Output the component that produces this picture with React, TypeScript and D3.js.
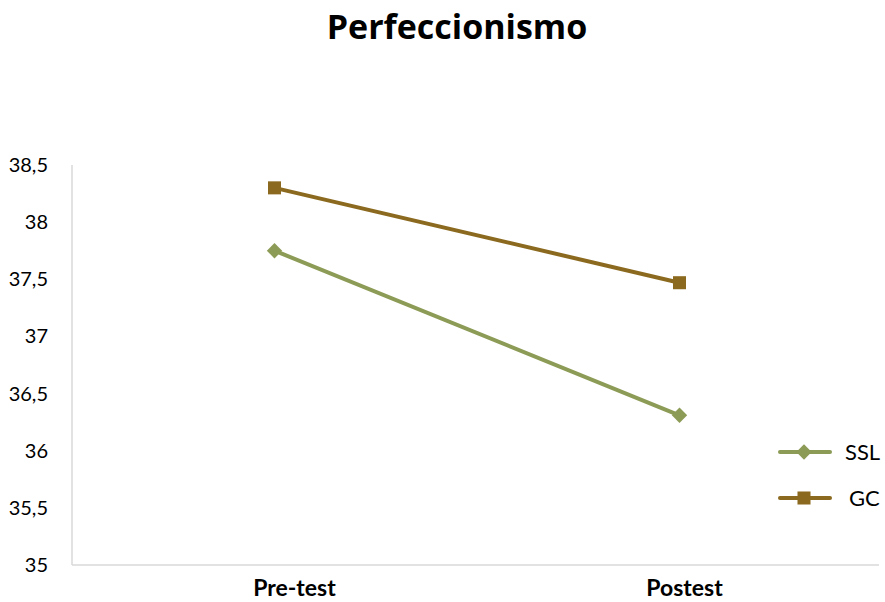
import * as d3 from "d3";
import { useEffect, useRef } from "react";

const categories = ["Pre-test", "Postest"];
const seriesNames = ["SSL", "GC"];
const sslValues = [37.75, 36.31];
const gcValues = [38.3, 37.47];
const yTicks = [35, 35.5, 36, 36.5, 37, 37.5, 38, 38.5];
const colors = ["#8c9b55", "#8b6a1f"];

export default function App() {
  const svgRef = useRef<SVGSVGElement>(null);

  useEffect(() => {
    render();
  }, []);

  const render = () => {
    const width = 885;
    const height = 602;
    const margin = { top: 165, left: 72, right: 3, bottom: 37 };
    const svg = d3.select(svgRef.current).attr("width", width).attr("height", height);
    svg.selectAll("*").remove();

    const font = "Lato, 'Open Sans', sans-serif";

    // 제목
    svg
      .append("text")
      .attr("x", 457)
      .attr("y", 39)
      .attr("text-anchor", "middle")
      .attr("font-family", "'Open Sans', sans-serif")
      .attr("font-weight", "bold")
      .attr("font-size", 34)
      .attr("fill", "#000")
      .text("Perfeccionismo");

    const x = d3
      .scalePoint<string>()
      .domain(categories)
      .range([margin.left, width - margin.right])
      .padding(0.5);
    const y = d3
      .scaleLinear()
      .domain([35, 38.5])
      .range([height - margin.bottom, margin.top]);

    const g = svg.append("g");

    // 축 선
    g.append("line")
      .attr("x1", margin.left)
      .attr("x2", margin.left)
      .attr("y1", y(38.5))
      .attr("y2", y(35))
      .attr("stroke", "#d9d9d9")
      .attr("stroke-width", 1.5);
    g.append("line")
      .attr("x1", margin.left)
      .attr("x2", width - margin.right - 3)
      .attr("y1", y(35))
      .attr("y2", y(35))
      .attr("stroke", "#d9d9d9")
      .attr("stroke-width", 1.5);

    const fmt = (d: number) => String(d).replace(".", ",");
    g.selectAll(".ytick")
      .data(yTicks)
      .join("text")
      .attr("class", "ytick")
      .attr("x", 48)
      .attr("y", (d) => y(d))
      .attr("dy", "0.35em")
      .attr("text-anchor", "end")
      .attr("font-family", font)
      .attr("font-size", 20)
      .attr("fill", "#000")
      .text(fmt);

    // 카테고리 라벨 (원본은 살짝 오른쪽으로 치우쳐 있음)
    const labelShift = [20, 5];
    g.selectAll(".xtick")
      .data(categories)
      .join("text")
      .attr("class", "xtick")
      .attr("x", (d) => x(d)!)
      .attr("dx", (d, i) => labelShift[i])
      .attr("y", 596)
      .attr("text-anchor", "middle")
      .attr("font-family", font)
      .attr("font-weight", "bold")
      .attr("font-size", 23)
      .attr("fill", "#000")
      .text((d) => d);

    const series = [sslValues, gcValues];
    const line = d3
      .line<number>()
      .x((d, i) => x(categories[i])!)
      .y((d) => y(d));

    const diamond = d3.symbol().type(d3.symbolDiamond2).size(150);
    const square = d3.symbol().type(d3.symbolSquare).size(170);

    series.forEach((vals, si) => {
      g.append("path")
        .attr("d", line(vals))
        .attr("fill", "none")
        .attr("stroke", colors[si])
        .attr("stroke-width", 4)
        .attr("stroke-linecap", "round");
      g.selectAll(`.m${si}`)
        .data(vals)
        .join("path")
        .attr("class", `m${si}`)
        .attr("transform", (d, i) => `translate(${x(categories[i])},${y(d)})`)
        .attr("d", si === 0 ? diamond() : square())
        .attr("fill", colors[si]);
    });

    // 범례
    const legend = svg.append("g");
    seriesNames.forEach((name, i) => {
      const ly = 452 + i * 46;
      legend
        .append("line")
        .attr("x1", 780)
        .attr("x2", 830)
        .attr("y1", ly)
        .attr("y2", ly)
        .attr("stroke", colors[i])
        .attr("stroke-width", 4)
        .attr("stroke-linecap", "round");
      legend
        .append("path")
        .attr("transform", `translate(804,${ly})`)
        .attr("d", i === 0 ? diamond() : square())
        .attr("fill", colors[i]);
      legend
        .append("text")
        .attr("x", i === 0 ? 845 : 849)
        .attr("y", ly)
        .attr("dy", "0.35em")
        .attr("font-family", font)
        .attr("font-size", 22)
        .attr("fill", "#000")
        .text(name);
    });
  };

  return <svg ref={svgRef} style={{ position: "absolute", left: 0, top: 0 }}></svg>;
}
